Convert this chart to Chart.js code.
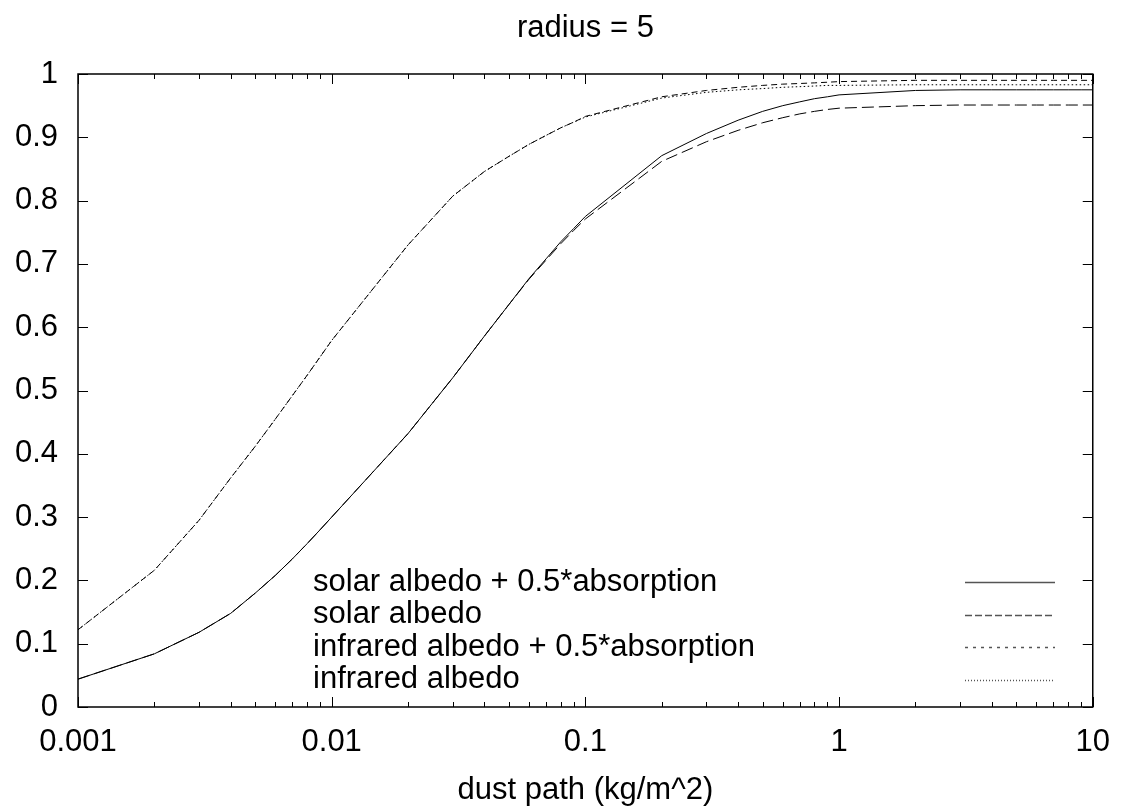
<!DOCTYPE html>
<html>
<head>
<meta charset="utf-8">
<script src="https://cdn.jsdelivr.net/npm/chart.js@4.4.1/dist/chart.umd.min.js"></script>
<style>
  html, body { margin: 0; padding: 0; background: #fff; }
  canvas { display: block; }
</style>
</head>
<body>
<canvas id="chartCanvas" width="1127" height="812"></canvas>
<script>
// dust path (kg/m^2)
const dustPath = [
  0.001, 0.002, 0.003, 0.004, 0.005, 0.006, 0.007, 0.008, 0.009,
  0.01, 0.02, 0.03, 0.04, 0.05, 0.06, 0.07, 0.08, 0.09,
  0.1, 0.2, 0.3, 0.4, 0.5, 0.6, 0.7, 0.8, 0.9,
  1, 2, 3, 4, 5, 6, 7, 8, 9, 10
];

const solarAlbedoAbs = [
  0.044, 0.084, 0.118, 0.148, 0.180, 0.208, 0.234, 0.258, 0.280,
  0.300, 0.432, 0.520, 0.586, 0.636, 0.677, 0.708, 0.735, 0.756,
  0.775, 0.871, 0.906, 0.927, 0.941, 0.950, 0.956, 0.961, 0.964,
  0.967, 0.974, 0.975, 0.975, 0.975, 0.975, 0.975, 0.975, 0.975, 0.975
];

const solarAlbedo = [
  0.044, 0.084, 0.118, 0.148, 0.180, 0.208, 0.234, 0.258, 0.280,
  0.300, 0.432, 0.520, 0.586, 0.636, 0.676, 0.706, 0.732, 0.753,
  0.771, 0.862, 0.893, 0.911, 0.923, 0.931, 0.937, 0.941, 0.944,
  0.946, 0.950, 0.951, 0.951, 0.951, 0.951, 0.951, 0.951, 0.951, 0.951
];

const irAlbedoAbs = [
  0.122, 0.216, 0.295, 0.362, 0.412, 0.455, 0.492, 0.524, 0.553,
  0.579, 0.730, 0.807, 0.846, 0.870, 0.889, 0.903, 0.915, 0.924,
  0.933, 0.964, 0.974, 0.979, 0.982, 0.984, 0.985, 0.986, 0.987,
  0.988, 0.990, 0.990, 0.990, 0.990, 0.990, 0.990, 0.990, 0.990, 0.990
];

const irAlbedo = [
  0.122, 0.216, 0.295, 0.362, 0.412, 0.455, 0.492, 0.524, 0.553,
  0.579, 0.730, 0.807, 0.846, 0.870, 0.889, 0.903, 0.915, 0.924,
  0.932, 0.962, 0.971, 0.975, 0.977, 0.979, 0.980, 0.981, 0.982,
  0.982, 0.983, 0.983, 0.983, 0.983, 0.983, 0.983, 0.983, 0.983, 0.983
];

const seriesNames = [
  'solar albedo + 0.5*absorption',
  'solar albedo',
  'infrared albedo + 0.5*absorption',
  'infrared albedo'
];

const xTickValues = [0.001, 0.01, 0.1, 1, 10];
const chartTitle = 'radius = 5';
const xTitle = 'dust path (kg/m^2)';

const FONT = '"Liberation Sans", Arial, Helvetica, sans-serif';
const FONT_SIZE = 31;

function pares(ys) {
  return dustPath.map((x, i) => ({ x: x, y: ys[i] }));
}

// border, inward ticks on all four sides, title, x title and key
const marco = {
  id: 'marco',
  afterDatasetsDraw(chart) {
    const ctx = chart.ctx;
    const a = chart.chartArea;
    const xs = chart.scales.x;
    const ys = chart.scales.y;
    ctx.save();
    ctx.strokeStyle = '#000';
    ctx.lineWidth = 1;
    ctx.setLineDash([]);
    ctx.beginPath();
    // y ticks
    ys.ticks.forEach(t => {
      const py = Math.round(ys.getPixelForValue(t.value)) + 0.5;
      ctx.moveTo(a.left, py); ctx.lineTo(a.left + 10, py);
      ctx.moveTo(a.right, py); ctx.lineTo(a.right - 10, py);
    });
    // x ticks, major and minor
    xTickValues.forEach((d, i) => {
      const px = Math.round(xs.getPixelForValue(d)) + 0.5;
      ctx.moveTo(px, a.bottom); ctx.lineTo(px, a.bottom - 10);
      ctx.moveTo(px, a.top); ctx.lineTo(px, a.top + 10);
      if (i < xTickValues.length - 1) {
        for (let k = 2; k <= 9; k++) {
          const mx = Math.round(xs.getPixelForValue(k * d)) + 0.5;
          ctx.moveTo(mx, a.bottom); ctx.lineTo(mx, a.bottom - 5);
          ctx.moveTo(mx, a.top); ctx.lineTo(mx, a.top + 5);
        }
      }
    });
    ctx.stroke();
    ctx.lineWidth = 1.5;
    ctx.strokeRect(a.left, a.top, a.right - a.left, a.bottom - a.top);

    // key
    ctx.font = FONT_SIZE + 'px ' + FONT;
    ctx.fillStyle = '#000';
    ctx.textAlign = 'left';
    ctx.textBaseline = 'middle';
    chart.data.datasets.forEach((ds, i) => {
      const y = 582 + i * 32.6;
      ctx.fillText(ds.label, 313, y);
      ctx.beginPath();
      ctx.lineWidth = 1.5;
      ctx.strokeStyle = '#555';
      ctx.setLineDash(ds.legendDash);
      ctx.moveTo(965, Math.round(y) + 0.5);
      ctx.lineTo(1055, Math.round(y) + 0.5);
      ctx.stroke();
    });
    ctx.setLineDash([]);

    // titles
    ctx.textAlign = 'center';
    ctx.textBaseline = 'alphabetic';
    ctx.fillText(chartTitle, (a.left + a.right) / 2, 37);
    ctx.textBaseline = 'middle';
    ctx.fillText(xTitle, (a.left + a.right) / 2, 790);
    ctx.restore();
  }
};

const ctx = document.getElementById('chartCanvas').getContext('2d');
const chart = new Chart(ctx, {
  type: 'line',
  data: {
    datasets: [
      { label: seriesNames[0], data: pares(solarAlbedoAbs), borderDash: [], legendDash: [] },
      { label: seriesNames[1], data: pares(solarAlbedo), borderDash: [12, 5], legendDash: [7, 3] },
      { label: seriesNames[2], data: pares(irAlbedoAbs), borderDash: [6, 4], legendDash: [3, 5] },
      { label: seriesNames[3], data: pares(irAlbedo), borderDash: [1.5, 2.5], legendDash: [1, 2] }
    ].map(d => Object.assign(d, {
      borderColor: '#000',
      borderWidth: 1,
      pointRadius: 0,
      tension: 0,
      fill: false
    }))
  },
  options: {
    responsive: false,
    animation: false,
    layout: { padding: { left: 0, right: 32, top: 74, bottom: 0 } },
    plugins: {
      legend: { display: false },
      title: { display: false },
      tooltip: { enabled: false }
    },
    scales: {
      x: {
        type: 'logarithmic',
        min: 0.001,
        max: 10,
        grid: { display: false, drawTicks: false },
        border: { display: false },
        afterBuildTicks: (scale) => {
          scale.ticks = xTickValues.map(v => ({ value: v }));
        },
        afterFit: (scale) => { scale.height = 105; },
        ticks: {
          autoSkip: false,
          maxRotation: 0,
          padding: 17,
          color: '#000',
          font: { family: FONT, size: FONT_SIZE },
          callback: (v) => String(v)
        }
      },
      y: {
        min: 0,
        max: 1,
        grid: { display: false, drawTicks: false },
        border: { display: false },
        afterFit: (scale) => { scale.width = 78; },
        ticks: {
          stepSize: 0.1,
          padding: 20,
          color: '#000',
          font: { family: FONT, size: FONT_SIZE },
          callback: (v) => String(Math.round(v * 10) / 10)
        }
      }
    }
  },
  plugins: [marco]
});
</script>
</body>
</html>
